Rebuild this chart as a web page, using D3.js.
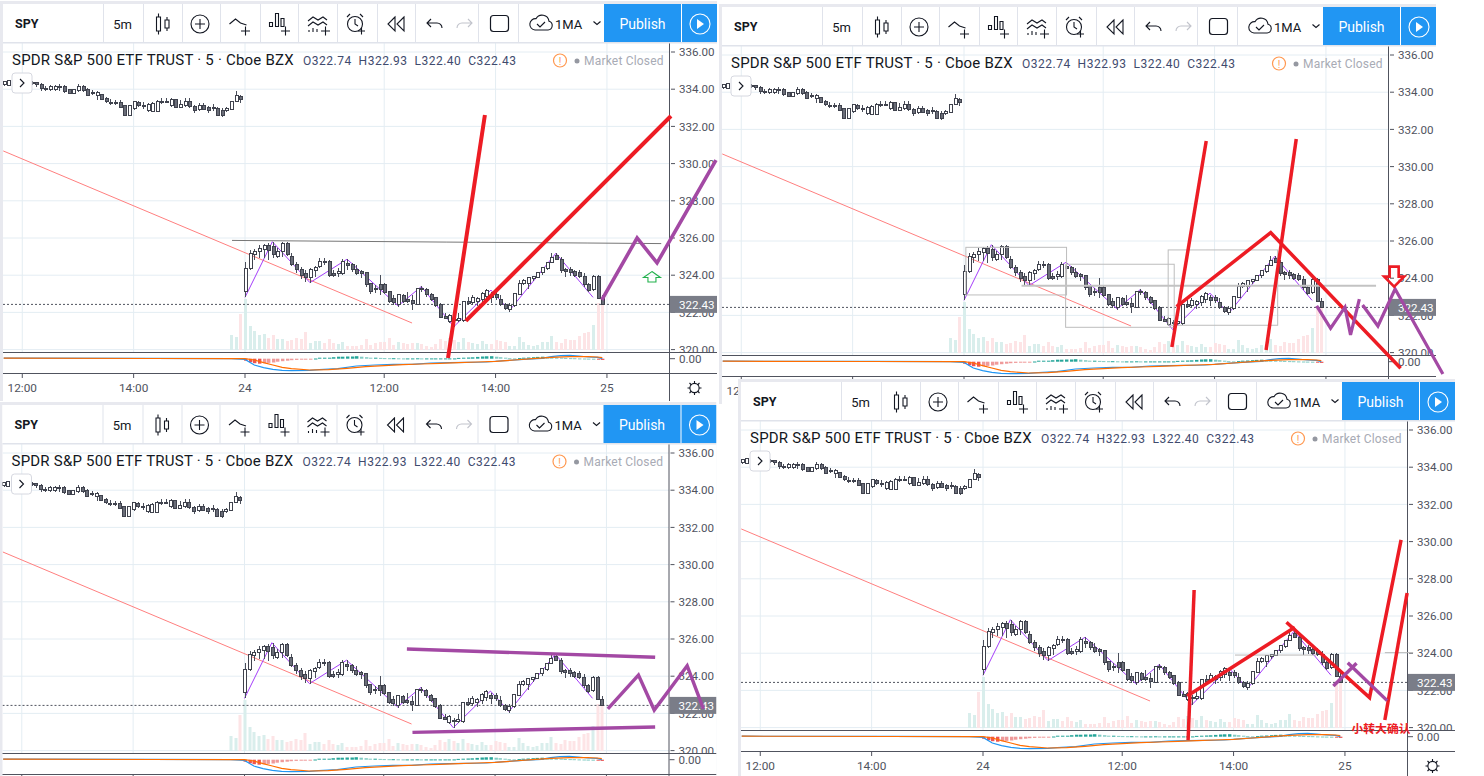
<!DOCTYPE html>
<html>
<head>
<meta charset="utf-8">
<script src="https://cdn.jsdelivr.net/npm/d3@7"></script>
<style>
  body { margin: 0; background: #fff; overflow: hidden; }
  text { font-family: Roboto, "Noto Sans", sans-serif; }
</style>
</head>
<body>
<div id="viz"></div>
<script>
// SPY 5 minute bars, previous session then the 24th. Bar 0 is the open of the 24th
const prevOpen = [334.23,334.19,334.29,334.38,334.32,334.37,334.30,334.37,334.23,334.05,333.96,333.96,334.17,334.14,333.96,333.78,333.92,334.17,333.96,333.81,333.65,333.69,333.51,333.28,333.30,333.28,333.10,332.58,332.97,333.28,333.15,332.88,332.79,332.79,333.33,333.28,333.15,333.42,333.03,333.15,333.33,333.08,332.92,333.15,333.03,332.95,332.97,332.88,332.88,332.92,333.33,333.60];
const prevHigh = [334.46,334.49,334.46,334.47,334.44,334.48,334.42,334.40,334.32,334.17,334.23,334.23,334.28,334.23,334.00,334.00,334.26,334.23,334.05,333.96,333.92,333.74,333.56,333.47,333.42,333.42,333.15,333.15,333.38,333.37,333.33,333.28,333.33,333.42,333.54,333.51,333.51,333.47,333.42,333.51,333.51,333.15,333.24,333.24,333.10,333.21,333.03,332.97,333.06,333.38,333.90,333.69];
const prevLow = [334.17,334.17,334.22,334.25,334.20,334.24,334.22,334.14,333.92,333.92,333.92,333.92,333.92,333.81,333.74,333.74,333.83,333.83,333.63,333.69,333.42,333.42,333.28,333.13,333.15,332.97,332.56,332.56,332.88,333.03,332.92,332.76,332.76,332.76,333.20,333.24,333.06,332.97,333.01,333.06,333.01,332.74,332.85,332.88,332.74,332.85,332.56,332.52,332.79,332.88,333.30,333.28];
const prevClose = [334.40,334.46,334.40,334.30,334.36,334.28,334.35,334.23,334.05,334.01,334.14,334.17,334.14,333.87,333.78,333.96,334.17,333.92,333.65,333.78,333.83,333.47,333.33,333.24,333.26,333.03,332.58,333.10,333.33,333.10,333.06,333.20,333.24,333.33,333.26,333.35,333.45,333.03,333.19,333.33,333.06,332.83,333.15,332.92,332.85,333.00,332.58,332.56,332.95,333.33,333.65,333.42];

const dayOpen = [323.12,324.37,325.12,325.27,325.36,325.57,325.54,325.03,325.27,325.71,325.03,324.59,324.32,324.07,323.89,324.23,324.46,324.75,324.73,324.10,324.07,324.10,324.64,324.55,324.32,324.19,324.14,323.53,323.30,323.48,323.51,323.10,322.74,322.40,322.92,322.67,322.62,322.45,323.30,323.24,322.94,322.81,322.40,321.77,321.50,321.63,321.56,321.59,322.58,322.53,322.58,322.67,322.88,322.94,322.94,322.70,322.40,322.13,322.35,322.94,323.57,323.53,323.80,323.89,324.16,324.37,324.68,325.05,324.86,324.32,324.28,324.19,324.16,323.92,323.48,323.21,323.92,322.74];
const dayHigh = [324.73,325.36,325.39,325.63,325.68,325.75,325.80,325.45,325.80,325.77,325.18,324.73,324.46,324.28,324.37,324.50,324.95,324.91,324.82,324.28,324.37,324.86,324.86,324.68,324.55,324.28,324.19,323.60,323.48,324.01,323.57,323.13,322.94,322.99,322.99,323.12,322.94,323.33,323.44,323.30,323.06,322.85,322.49,321.95,321.92,321.77,321.95,322.62,322.81,322.94,322.81,323.12,323.24,323.12,323.12,322.94,322.49,322.49,322.99,323.74,323.78,323.92,323.96,324.19,324.46,324.73,325.18,325.21,324.96,324.41,324.46,324.28,324.28,324.10,323.57,324.01,324.01,322.93];
const dayLow = [322.81,324.28,324.82,324.91,324.91,324.82,324.91,324.91,325.00,325.05,324.50,324.14,323.78,323.65,323.57,323.92,324.37,324.55,323.92,323.89,323.92,324.01,324.28,324.19,324.01,323.83,323.39,322.99,323.03,322.94,322.99,322.49,322.40,322.31,322.49,322.49,322.13,322.40,323.12,322.85,322.63,322.31,321.68,321.63,321.41,321.23,321.50,321.50,322.40,322.40,322.35,322.49,322.67,322.53,322.67,322.35,322.13,322.04,322.27,322.92,323.48,323.26,323.71,323.83,324.01,324.28,324.64,324.82,324.14,323.92,323.96,323.92,323.83,323.39,323.12,323.17,322.72,322.40];
const dayClose = [324.37,325.18,325.27,325.41,325.57,325.32,325.09,325.27,325.71,325.09,324.59,324.28,324.01,323.89,324.28,324.41,324.73,324.71,324.01,323.96,324.19,324.73,324.52,324.28,324.07,324.10,323.48,323.12,323.21,323.21,323.06,322.58,322.53,322.94,322.58,322.58,322.49,323.30,323.24,322.94,322.70,322.36,321.74,321.68,321.81,321.59,321.65,322.58,322.49,322.81,322.74,322.99,323.17,322.81,322.81,322.45,322.22,322.35,322.99,323.57,323.69,323.89,323.92,324.16,324.43,324.68,324.96,324.87,324.25,324.19,324.16,323.98,323.92,323.48,323.17,323.92,322.76,322.43];

// volume in thousands, first three are the last bars of the previous session
const volumeBars = [-3,-2,-1,0,1,2,3,4,5,6,7,8,9,10,11,12,13,14,15,16,17,18,19,20,21,22,23,24,25,26,27,28,29,30,31,32,33,34,35,36,37,38,39,40,41,42,43,44,45,46,47,48,49,50,51,52,53,54,55,56,57,58,59,60,61,62,63,64,65,66,67,68,69,70,71,72,73,74,75,76,77];
const volume = [300,260,720,1020,480,380,300,320,240,300,220,220,180,200,240,220,360,140,180,180,140,220,140,120,160,80,80,80,100,220,100,140,160,160,240,100,160,140,120,140,140,120,80,60,120,220,180,240,200,160,240,160,140,120,180,120,120,200,180,160,80,80,260,160,100,80,100,160,160,280,160,140,220,200,200,280,340,360,500,940,920];

const macdBars = [-52,-20,-3,0,2,4,6,8,10,14,16,20,24,28,32,36,40,44,48,52,56,60,64,66,68,70,72,74,76,77];
const macdLine = [0.05,0.03,0,-0.07,-0.63,-0.9,-1.07,-1.17,-1.2,-1.17,-1.1,-1.0,-0.73,-0.63,-0.57,-0.57,-0.43,-0.4,-0.37,-0.33,-0.2,-0.07,0.03,0.2,0.3,0.33,0.27,0.17,0.13,0];
const signalBars = [-52,-20,-3,0,2,4,6,8,10,14,18,22,26,30,34,38,42,46,50,54,58,62,66,70,74,76,77];
const signalLine = [0.05,0.02,0,0,-0.13,-0.4,-0.63,-0.87,-1.0,-1.13,-1.1,-0.97,-0.8,-0.7,-0.6,-0.53,-0.47,-0.4,-0.33,-0.27,-0.13,0,0.13,0.2,0.2,0.17,0.1];
const macdHist = [-0.2,-0.35,-0.45,-0.5,-0.45,-0.42,-0.38,-0.3,-0.25,-0.2,-0.15,-0.12,-0.08,-0.05,-0.02,0.02,0.1,0.1,0.1,0.15,0.2,0.2,0.22,0.22,0.25,0.2,0.15,0.1,0.1,0.08,0.06,0.05,0.05,0.04,0.03,0.03,0.03,0.04,0.03,0.03,0.03,0.03,0.03,0.03,0.03,0.03,0.08,0.1,0.12,0.14,0.18,0.22,0.24,0.25,0.2,0.15,0.1,0.05,0.03,0.06,0.1,0.12,0.15,0.18,0.2,0.18,0.15,0.12,0.1,0.08,0.06,0.05,0.03,0.02,0.01,0,-0.05,-0.12];

// studies on every panel, [bar, price]
const zigzag = [[0,322.81],[5.9,325.80],[14,323.60],[22,324.86],[33,322.35],[38,323.39],[45,321.23],[53,323.2],[57,322.1],[67,325.18],[75,322.81]];
const trendLine = [[-52.1,330.68],[36,321.43]];

const priceTicks = [336,334,332,330,328,326,324,322,320];
const timeBars = [-48,-24,0,30,54,78];
const timeLabels = ["12:00","14:00","24","12:00","14:00","25"];
const lastPrice = 322.43;

// hand drawn markup per panel, [bar, price]
const p1Red = [
  [[43.75,319.55],[51.7,332.61]],
  [[47.6,321.54],[91.8,332.56]]
];
const p1Purple = [[[76.9,322.67],[84.5,326.0],[88.8,324.66],[101.5,330.19]]];
const p1Grey = [[[-2.8,325.87],[12.5,325.84],[43.5,325.78],[73.9,325.73],[89.7,325.70]]];
const p1Arrow = [87.7,323.90];

const p2Red = [
  [[44.8,320.30],[52.2,331.38]],
  [[65.1,320.14],[71.6,331.48]],
  [[45.8,322.47],[66.1,326.45],[94.1,319.16]]
];
const p2Purple = [
  [[76.0,322.51],[79.0,321.31],[82.1,322.44],[83.3,320.95],[85.2,322.88]],
  [[85.9,322.56],[89.2,321.43],[92.9,323.42],[103.2,318.85]]
];
const p2Boxes = [
  [0.4,22.1,325.66,323.10],
  [21.9,45.3,324.75,321.36],
  [44.0,67.6,325.52,321.47]
];
const p2Level = [[12.4,323.60],[88.8,323.60]];
const p2Arrow = [92.7,324.06];

const p3Purple = [
  [[35.0,325.46],[88.5,325.02]],
  [[36.2,320.98],[88.5,321.27]],
  [[78.3,322.24],[84.9,324.06],[88.3,322.18],[95.4,324.56],[98.9,322.24]]
];

const p4Red = [
  [[44.2,319.33],[45.5,327.40]],
  [[44.0,321.70],[67.2,325.39]],
  [[65.4,325.66],[83.3,321.61],[90.1,330.09]],
  [[86.6,320.41],[91.4,327.24]]
];
const p4Purple = [
  [[75.5,322.24],[80.5,323.46]],
  [[78.6,323.49],[87.1,321.45]]
];
const p4Grey = [
  [[54.3,323.90],[71.9,323.90]],
  [[86.6,324.03],[92.7,324.03]]
];
const p4Note = "小转大确认";

const titleText = "SPDR S&P 500 ETF TRUST · 5 · Cboe BZX";
const ohlcText = "O322.74  H322.93  L322.40  C322.43";

const RED = "#ed1c24";
const PURPLE = "#a349a4";
const AXIS = "#50535e";
const GRID = "#e4edf3";

// one frame, panels differ only by where the screenshot was pasted
const bars = d3.range(-52, 78);
const allOpen = prevOpen.concat(dayOpen);
const allHigh = prevHigh.concat(dayHigh);
const allLow = prevLow.concat(dayLow);
const allClose = prevClose.concat(dayClose);

const x = d3.scaleLinear().domain([0, 77]).range([245, 602.3]);
const y = d3.scaleLinear().domain([320, 336]).range([349.6, 52]);
const yVol = d3.scaleLinear().domain([0, 2000]).range([350, 250]);
const yMacd = d3.scaleLinear().domain([-1, 1]).range([368.7, 348.7]);
const lineGen = d3.line().x(d => x(d[0])).y(d => y(d[1]));

const svg = d3.select("#viz").append("svg").attr("width", 1484).attr("height", 776);
const defs = svg.append("defs");
defs.append("clipPath").attr("id", "pricePane").append("rect").attr("x", 3).attr("y", 43).attr("width", 667).attr("height", 309);
defs.append("clipPath").attr("id", "macdPane").append("rect").attr("x", 3).attr("y", 353).attr("width", 667).attr("height", 20);
defs.append("clipPath").attr("id", "axisPane").append("rect").attr("x", 671).attr("y", 43).attr("width", 46).attr("height", 309);
defs.append("clipPath").attr("id", "framePane").append("rect").attr("x", 0).attr("y", 0).attr("width", 717).attr("height", 401);

function strokes(g, lines, color, width) {
  g.selectAll(null).data(lines).enter().append("path")
    .attr("d", d => lineGen(d))
    .attr("fill", "none").attr("stroke", color).attr("stroke-width", width)
    .attr("stroke-linejoin", "miter").attr("stroke-linecap", "butt");
}

function icon(g, d, color, width) {
  g.append("path").attr("d", d).attr("fill", "none").attr("stroke", color || "#131722").attr("stroke-width", width || 1.1);
}

function drawToolbar(g) {
  g.append("rect").attr("x", 3).attr("y", 4).attr("width", 714).attr("height", 38).attr("fill", "#fff");
  g.append("rect").attr("x", 3).attr("y", 42).attr("width", 714).attr("height", 1.5).attr("fill", "#e0e3eb");
  [103, 143, 182, 220, 260, 298, 337, 377, 415, 478, 518].forEach(s => {
    g.append("rect").attr("x", s).attr("y", 4).attr("width", 1).attr("height", 38).attr("fill", "#e0e3eb");
  });
  g.append("text").attr("x", 15).attr("y", 28).attr("font-size", 12.5).attr("font-weight", 700).attr("fill", "#131722").text("SPY");
  g.append("text").attr("x", 122.5).attr("y", 28.5).attr("text-anchor", "middle").attr("font-size", 13).attr("fill", "#131722").text("5m");
  // candles
  icon(g, "M156.5 17h4v14h-4zM158.5 13.5v3.5M158.5 31v3.5M165 20h4v8h-4zM167 17v3M167 28v3");
  // compare
  g.append("circle").attr("cx", 200).attr("cy", 24).attr("r", 9).attr("fill", "none").attr("stroke", "#131722").attr("stroke-width", 1.1);
  icon(g, "M195 24h10M200 19v10");
  // indicators
  icon(g, "M229.5 24l6-5 5 4 6 2M241 31h9M245.5 26.5v9");
  icon(g, "M269.5 22.5h3v4h-3zM275.5 13.5h3v13h-3zM281 18.5h3v8h-3zM281 31h9M285.5 26.5v9");
  icon(g, "M308 21l5-4 5 3 5-3 4 3M308 26l5-4 5 3 5-3 4 3M309 32v-2M313 32v-4M317 32v-3M321 31h9M325.5 26.5v9");
  // alert
  g.append("circle").attr("cx", 355).attr("cy", 24).attr("r", 7.5).attr("fill", "none").attr("stroke", "#131722").attr("stroke-width", 1.1);
  icon(g, "M347 17l3-3M363 17l-3-3M355 19v5l3 2M358 31h7M361.5 27.5v7");
  // replay, undo, redo
  icon(g, "M395 17l-7 7 7 7zM404 17l-7 7 7 7z");
  icon(g, "M427 23h10a5 5 0 0 1 5 5M431 19l-4 4 4 4");
  icon(g, "M472 23h-10a5 5 0 0 0 -5 5M468 19l4 4 -4 4", "#c2c4cc");
  g.append("rect").attr("x", 490.5).attr("y", 15.5).attr("width", 18).attr("height", 16).attr("rx", 3).attr("fill", "none").attr("stroke", "#131722").attr("stroke-width", 1.2);
  // layouts
  icon(g, "M535 30h13a4.5 4.5 0 0 0 1 -8.8a7 7 0 0 0 -13 -2.5a5.5 5.5 0 0 0 -1 11.3zM537 24l3 3 5 -5");
  g.append("text").attr("x", 555).attr("y", 28.5).attr("font-size", 13).attr("fill", "#131722").text("1MA");
  icon(g, "M593.5 21.5l3.5 3 3.5 -3");
  g.append("rect").attr("x", 604).attr("y", 4).attr("width", 77).attr("height", 38).attr("fill", "#2196f3");
  g.append("rect").attr("x", 682).attr("y", 4).attr("width", 35).attr("height", 38).attr("fill", "#2196f3");
  g.append("text").attr("x", 642.5).attr("y", 29).attr("text-anchor", "middle").attr("font-size", 14).attr("fill", "#fff").text("Publish");
  g.append("circle").attr("cx", 700).attr("cy", 24).attr("r", 10).attr("fill", "none").attr("stroke", "#fff").attr("stroke-width", 1.1);
  g.append("path").attr("d", "M697 19l7 5 -7 5z").attr("fill", "#fff");
}

function drawPanel(dx, dy) {
  const g = svg.append("g").attr("transform", `translate(${dx},${dy})`);
  const frame = g.append("g").attr("clip-path", "url(#framePane)");
  frame.append("rect").attr("x", 0).attr("y", 1).attr("width", 717).attr("height", 400).attr("fill", "#e8e9ef");
  frame.append("rect").attr("x", 3).attr("y", 4).attr("width", 714).attr("height", 397).attr("fill", "#fff");

  // grid
  const pane = frame.append("g").attr("clip-path", "url(#pricePane)");
  pane.selectAll(null).data(priceTicks).enter().append("line")
    .attr("x1", 3).attr("x2", 670).attr("y1", d => y(d)).attr("y2", d => y(d)).attr("stroke", GRID);
  pane.selectAll(null).data(timeBars).enter().append("line")
    .attr("x1", d => x(d)).attr("x2", d => x(d)).attr("y1", 43).attr("y2", 352).attr("stroke", GRID);

  // volume
  pane.selectAll(null).data(volume).enter().append("rect")
    .attr("x", (d, i) => Math.round(x(volumeBars[i])) - 1)
    .attr("width", 3)
    .attr("y", d => yVol(d))
    .attr("height", d => yVol(0) - yVol(d))
    .attr("fill", (d, i) => {
      const k = bars.indexOf(volumeBars[i]);
      return allClose[k] >= allOpen[k] ? "#d9eeec" : "#fde4e6";
    });

  // last price line
  pane.append("line").attr("x1", 3).attr("x2", 670).attr("y1", y(lastPrice)).attr("y2", y(lastPrice))
    .attr("stroke", AXIS).attr("stroke-width", 1).attr("stroke-dasharray", "2 2");

  // studies sit under the bars
  strokes(pane, [trendLine], "#ff7f7f", 1);
  strokes(pane, [zigzag], "#a43dfa", 1);

  // candles
  const candle = pane.selectAll(null).data(bars).enter().append("g").attr("shape-rendering", "crispEdges");
  candle.append("line")
    .attr("x1", d => Math.round(x(d)) + 0.5).attr("x2", d => Math.round(x(d)) + 0.5)
    .attr("y1", (d, i) => y(allHigh[i])).attr("y2", (d, i) => y(allLow[i]))
    .attr("stroke", "#4a4e5a");
  candle.append("rect")
    .attr("x", d => Math.round(x(d)) - 1)
    .attr("width", 3)
    .attr("y", (d, i) => y(Math.max(allOpen[i], allClose[i])))
    .attr("height", (d, i) => Math.max(1, Math.abs(y(allOpen[i]) - y(allClose[i]))))
    .attr("fill", (d, i) => allClose[i] >= allOpen[i] ? "#fff" : "#6a6d78")
    .attr("stroke", "#3f424d").attr("stroke-width", 1);

  // legend
  frame.append("text").attr("x", 12).attr("y", 65).attr("font-size", 15).attr("letter-spacing", 0.22).attr("fill", "#131722").text(titleText);
  frame.append("text").attr("x", 303).attr("y", 65).attr("font-size", 12).attr("letter-spacing", 0.5).attr("fill", "#3f4b6e").attr("xml:space", "preserve").text(ohlcText);
  frame.append("circle").attr("cx", 560).attr("cy", 60.5).attr("r", 6.5).attr("fill", "#fff").attr("stroke", "#ff9850").attr("stroke-width", 1.2);
  frame.append("text").attr("x", 560).attr("y", 64.5).attr("text-anchor", "middle").attr("font-size", 10).attr("fill", "#ff9850").text("!");
  frame.append("circle").attr("cx", 577).attr("cy", 61).attr("r", 2.5).attr("fill", "#9598a1");
  frame.append("text").attr("x", 584).attr("y", 65).attr("font-size", 12).attr("letter-spacing", 0.2).attr("fill", "#a8abb5").text("Market Closed");
  frame.append("rect").attr("x", 12).attr("y", 73).attr("width", 20).attr("height", 20).attr("rx", 3).attr("fill", "#fff").attr("stroke", "#d6d8e0");
  icon(frame, "M20 79l4 4 -4 4");

  // macd
  const macd = frame.append("g").attr("clip-path", "url(#macdPane)");
  macd.selectAll(null).data(macdHist).enter().append("rect")
    .attr("x", (d, i) => Math.round(x(i)) - 1)
    .attr("width", 3.4)
    .attr("y", d => Math.min(yMacd(d), yMacd(0)) )
    .attr("height", d => Math.max(1, Math.abs(yMacd(d) - yMacd(0))))
    .attr("fill", (d, i) => {
      const prev = i > 0 ? macdHist[i - 1] : 0;
      if (d < 0) return d < prev ? "#ef5350" : "#ef9a9a";
      return d >= prev ? "#26a69a" : "#80cbc4";
    });
  const macdGen = d3.line().x(d => x(d[0])).y(d => yMacd(d[1]));
  macd.append("path").attr("d", macdGen(macdBars.map((b, i) => [b, macdLine[i]]))).attr("fill", "none").attr("stroke", "#2196f3").attr("stroke-width", 1.2);
  macd.append("path").attr("d", macdGen(signalBars.map((b, i) => [b, signalLine[i]]))).attr("fill", "none").attr("stroke", "#ff6d00").attr("stroke-width", 1.2);

  // axes
  frame.append("rect").attr("x", 670).attr("y", 43).attr("width", 47).attr("height", 358).attr("fill", "#fff");
  const priceAxis = frame.append("g").attr("clip-path", "url(#axisPane)");
  priceAxis.selectAll(null).data(priceTicks).enter().append("text")
    .attr("x", 679).attr("y", d => y(d) + 4.2).attr("font-size", 11.6).attr("fill", AXIS).text(d => d3.format(".2f")(d));
  priceAxis.selectAll(null).data(priceTicks).enter().append("line")
    .attr("x1", 670).attr("x2", 675).attr("y1", d => y(d)).attr("y2", d => y(d)).attr("stroke", AXIS);
  frame.append("rect").attr("x", 670).attr("y", y(lastPrice) - 8.5).attr("width", 47).attr("height", 17).attr("fill", "#7a7d88");
  frame.append("text").attr("x", 679).attr("y", y(lastPrice) + 4.2).attr("font-size", 11.6).attr("fill", "#fff").text(d3.format(".2f")(lastPrice));
  frame.append("text").attr("x", 679).attr("y", yMacd(0) + 4.2).attr("font-size", 11.6).attr("fill", AXIS).text("0.00");
  frame.append("line").attr("x1", 670).attr("x2", 675).attr("y1", yMacd(0)).attr("y2", yMacd(0)).attr("stroke", AXIS);

  frame.append("line").attr("x1", 3).attr("x2", 717).attr("y1", 352.5).attr("y2", 352.5).attr("stroke", AXIS);
  frame.append("line").attr("x1", 3).attr("x2", 717).attr("y1", 373.5).attr("y2", 373.5).attr("stroke", AXIS);
  frame.append("line").attr("x1", 669.5).attr("x2", 669.5).attr("y1", 43).attr("y2", 401).attr("stroke", AXIS);

  frame.selectAll(null).data(timeBars).enter().append("line")
    .attr("x1", d => x(d)).attr("x2", d => x(d)).attr("y1", 373).attr("y2", 378).attr("stroke", AXIS);
  frame.selectAll(null).data(timeLabels).enter().append("text")
    .attr("x", (d, i) => x(timeBars[i])).attr("y", 392).attr("text-anchor", "middle").attr("font-size", 11.8).attr("fill", AXIS).text(d => d);

  // settings cog
  frame.append("circle").attr("cx", 694.5).attr("cy", 388).attr("r", 4.6).attr("fill", "none").attr("stroke", "#131722").attr("stroke-width", 1.1);
  icon(frame, "M694.5 381v2.5M694.5 392.5v2.5M687.5 388h2.5M699 388h2.5M689.5 383l2 2M697.5 391l2 2M699.5 383l-2 2M691.5 391l-2 2");

  drawToolbar(frame);
  return g;
}

// panel 1, top left
const p1 = drawPanel(0, 0);
strokes(p1, p1Grey, "#777", 1);
strokes(p1, p1Red, RED, 4);
strokes(p1, p1Purple, PURPLE, 3.6);
p1.append("path")
  .attr("transform", `translate(${x(p1Arrow[0])},${y(p1Arrow[1])})`)
  .attr("d", "M0 -5.5L8.5 0.5H4V5H-4V0.5H-8.5Z")
  .attr("fill", "none").attr("stroke", "#22b14c").attr("stroke-width", 1.1);

// panel 2, top right
const p2 = drawPanel(719, 3);
p2.selectAll(null).data(p2Boxes).enter().append("rect")
  .attr("x", d => x(d[0])).attr("width", d => x(d[1]) - x(d[0]))
  .attr("y", d => y(d[2])).attr("height", d => y(d[3]) - y(d[2]))
  .attr("fill", "none").attr("stroke", "#bdbdbd").attr("stroke-width", 1);
strokes(p2, [p2Level], "#c3c3c3", 2);
strokes(p2, p2Red, RED, 3.5);
strokes(p2, p2Purple, PURPLE, 3.2);
p2.append("path")
  .attr("transform", `translate(${x(p2Arrow[0])},${y(p2Arrow[1])})`)
  .attr("d", "M-4.5 -10.5H4.5V-0.5H10L0 9.5L-10 -0.5H-4.5Z")
  .attr("fill", "none").attr("stroke", RED).attr("stroke-width", 2.6);

// panel 3, bottom left
const p3 = drawPanel(-0.5, 401);
strokes(p3, p3Purple, PURPLE, 3.4);

// panel 4, bottom right, pasted last so it covers the bottom of panel 2
const p4 = drawPanel(738, 378);
strokes(p4, p4Grey, "#b8b8b8", 1);
strokes(p4, p4Red, RED, 3.5);
strokes(p4, p4Purple, PURPLE, 3.4);
p4.append("text").attr("x", 613.5).attr("y", 355).attr("font-size", 11.8).attr("font-weight", 700)
  .attr("fill", RED).style("font-family", '"Noto Sans CJK SC"').text(p4Note);
</script>
</body>
</html>
